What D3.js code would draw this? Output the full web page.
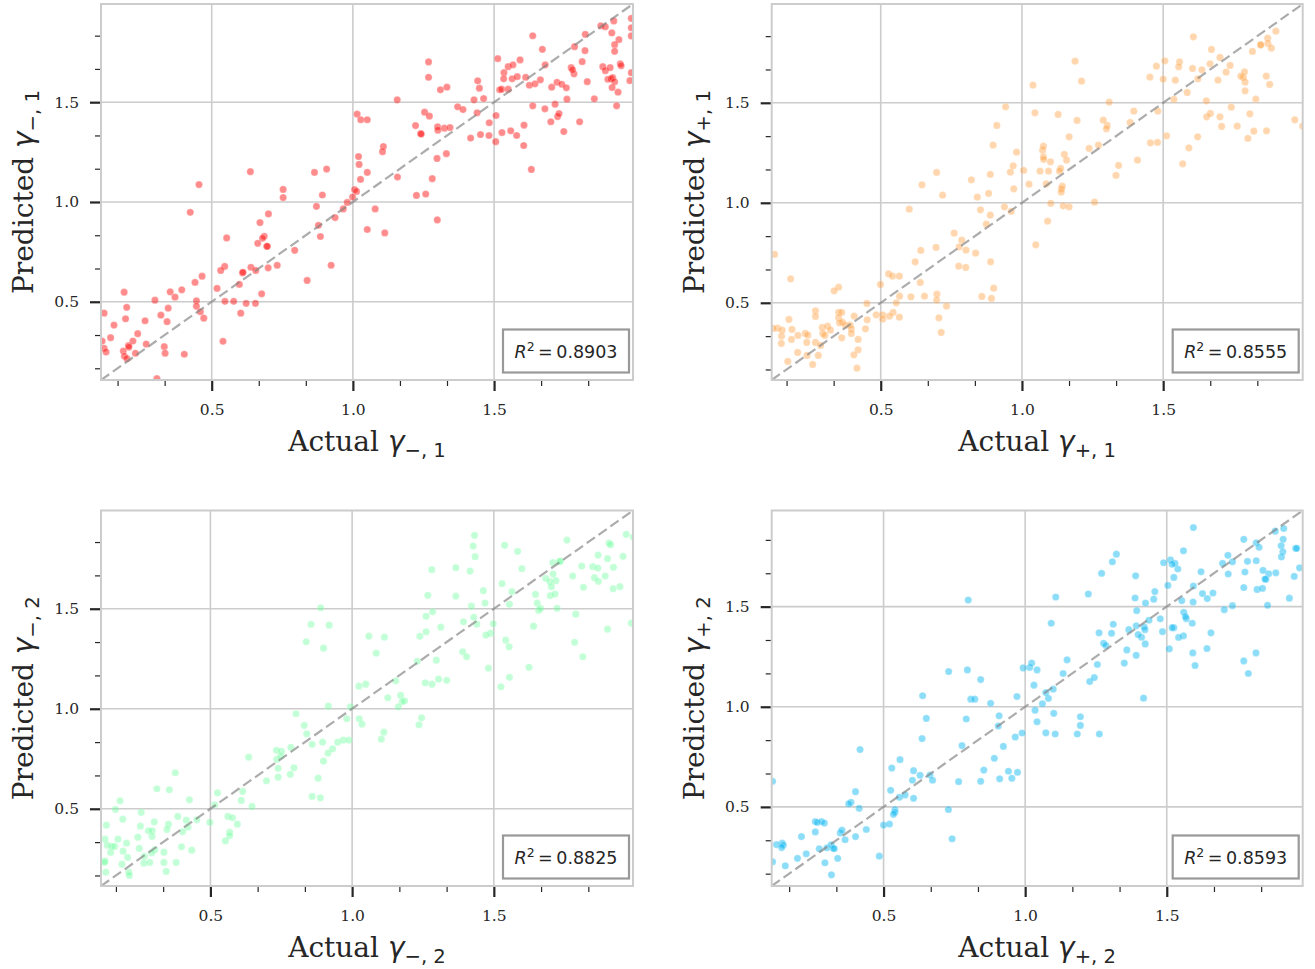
<!DOCTYPE html>
<html>
<head>
<meta charset="utf-8">
<script src="https://cdn.jsdelivr.net/npm/d3@7"></script>
<style>
  body { margin: 0; background: #ffffff; }
  svg { display: block; }
</style>
</head>
<body>
<svg id="fig" width="1315" height="969"></svg>
<script>
// ---- Actual vs predicted pairs for each coefficient ----
const gammaMinus1 = [
[1.015,1.440],[1.028,1.412],[1.051,1.412],[1.020,1.228],[1.022,1.188],[1.051,1.148],[1.027,1.113],[1.006,1.062],[1.013,1.053],[0.999,1.025],[0.980,0.998],[0.966,0.965],[0.937,0.922],[1.051,0.862],[0.637,1.152],[0.455,1.087],[0.424,0.948],[0.864,1.148],[0.907,1.165],[0.753,1.063],[0.753,1.022],[0.892,1.035],[0.871,0.978],[0.878,0.883],[0.885,0.827],[0.923,0.683],[0.838,0.607],[0.701,0.940],[0.671,0.897],[0.686,0.828],[0.680,0.818],[0.663,0.793],[0.695,0.778],[0.697,0.778],[0.794,0.758],[0.553,0.820],[0.546,0.677],[0.532,0.657],[0.639,0.673],[0.656,0.657],[0.609,0.645],[0.611,0.648],[0.700,0.670],[0.732,0.683],[0.598,0.587],[0.519,0.567],[0.677,0.540],[0.547,0.502],[0.578,0.502],[0.622,0.492],[0.655,0.492],[0.603,0.443],[0.540,0.302],[0.466,0.628],[0.441,0.597],[0.394,0.560],[0.353,0.550],[0.370,0.523],[0.299,0.508],[0.446,0.505],[0.446,0.477],[0.346,0.468],[0.320,0.433],[0.460,0.450],[0.472,0.418],[0.342,0.400],[0.264,0.405],[0.190,0.548],[0.199,0.472],[0.195,0.415],[0.119,0.443],[0.154,0.383],[0.142,0.320],[0.238,0.340],[0.221,0.303],[0.268,0.288],[0.205,0.280],[0.207,0.273],[0.112,0.303],[0.119,0.267],[0.126,0.248],[0.187,0.253],[0.191,0.227],[0.200,0.215],[0.230,0.242],[0.332,0.275],[0.335,0.242],[0.403,0.237],[0.306,0.115],
[1.637,1.833],[1.671,1.765],[1.513,1.718],[1.535,1.648],[1.550,1.678],[1.567,1.687],[1.592,1.712],[1.534,1.617],[1.564,1.617],[1.582,1.628],[1.612,1.625],[1.625,1.585],[1.645,1.592],[1.664,1.612],[1.681,1.687],[1.520,1.562],[1.527,1.565],[1.550,1.565],[1.637,1.482],[1.680,1.467],[1.507,1.433],[1.528,1.348],[1.559,1.357],[1.580,1.333],[1.606,1.385],[1.605,1.283],[1.632,1.163],[1.701,1.402],[1.716,1.490],[1.725,1.428],[1.730,1.443],[1.747,1.353],[1.803,1.402],[1.704,1.575],[1.723,1.600],[1.740,1.590],[1.756,1.572],[1.758,1.515],[1.773,1.673],[1.783,1.642],[1.778,1.662],[1.785,1.778],[1.822,1.758],[1.823,1.840],[1.812,1.703],[1.830,1.603],[1.855,1.517],[1.878,1.883],[1.894,1.878],[1.924,1.907],[1.917,1.847],[1.942,1.813],[1.927,1.788],[1.927,1.755],[1.885,1.678],[1.894,1.658],[1.911,1.673],[1.903,1.615],[1.914,1.617],[1.920,1.623],[1.927,1.602],[1.918,1.573],[1.939,1.550],[1.934,1.482],[1.947,1.692],[1.950,1.682],[1.986,1.920],[1.986,1.873],[1.986,1.832],[1.986,1.648],[1.981,1.608],[1.268,1.702],[1.268,1.625],[1.310,1.562],[1.333,1.575],[1.157,1.512],[1.254,1.450],[1.271,1.430],[1.222,1.383],[1.240,1.343],[1.242,1.340],[1.300,1.377],[1.301,1.360],[1.324,1.370],[1.344,1.373],[1.371,1.477],[1.390,1.463],[1.429,1.512],[1.442,1.607],[1.448,1.570],[1.463,1.518],[1.440,1.447],[1.483,1.397],[1.417,1.320],[1.452,1.338],[1.482,1.333],[1.506,1.302],[1.298,1.218],[1.331,1.242],[1.281,1.117],[1.158,1.125],[1.108,1.278],[1.105,1.252],[1.225,1.033],[1.258,1.040],[1.299,0.910],[1.079,0.965],[1.113,0.845]
];

const gammaPlus1 = [
[1.039,1.588],[0.942,1.480],[1.046,1.450],[0.911,1.387],[0.898,1.288],[0.981,1.253],[0.969,1.185],[0.959,1.153],[1.006,1.162],[1.064,1.158],[0.698,1.152],[0.646,1.090],[0.719,1.038],[0.821,1.115],[0.842,1.028],[0.882,1.047],[0.888,1.142],[0.971,1.070],[1.025,1.093],[0.938,0.980],[0.962,0.957],[0.853,0.965],[0.888,0.938],[0.874,0.893],[0.601,0.968],[0.760,0.848],[0.787,0.813],[0.778,0.780],[0.802,0.763],[0.836,0.748],[0.696,0.777],[0.642,0.762],[0.622,0.705],[0.889,0.705],[0.776,0.683],[0.801,0.677],[1.049,0.790],[0.900,0.573],[0.858,0.532],[0.892,0.522],[0.699,0.543],[0.698,0.513],[0.655,0.533],[0.607,0.530],[0.567,0.533],[0.733,0.483],[0.706,0.425],[0.714,0.352],[0.528,0.645],[0.542,0.633],[0.566,0.633],[0.499,0.592],[0.640,0.602],[0.555,0.500],[0.544,0.452],[0.484,0.440],[0.507,0.440],[0.507,0.418],[0.531,0.433],[0.566,0.428],[0.451,0.497],[0.452,0.415],[0.446,0.370],[0.124,0.742],[0.181,0.620],[0.351,0.578],[0.335,0.560],[0.351,0.452],[0.362,0.452],[0.351,0.425],[0.354,0.400],[0.364,0.403],[0.269,0.460],[0.269,0.432],[0.406,0.433],[0.375,0.388],[0.392,0.388],[0.396,0.370],[0.396,0.347],[0.293,0.377],[0.312,0.383],[0.322,0.363],[0.295,0.347],[0.302,0.337],[0.362,0.325],[0.420,0.317],[0.420,0.265],[0.405,0.240],[0.416,0.173],[0.175,0.417],[0.135,0.373],[0.151,0.363],[0.186,0.367],[0.184,0.317],[0.149,0.333],[0.148,0.297],[0.207,0.337],[0.233,0.347],[0.242,0.338],[0.238,0.302],[0.269,0.302],[0.287,0.287],[0.206,0.252],[0.239,0.237],[0.279,0.237],[0.259,0.192],[0.171,0.207],[0.119,0.372],
[1.607,1.830],[1.671,1.767],[1.701,1.727],[1.737,1.687],[1.723,1.653],[1.666,1.695],[1.637,1.665],[1.623,1.620],[1.604,1.672],[1.558,1.705],[1.555,1.680],[1.506,1.710],[1.476,1.683],[1.453,1.628],[1.500,1.618],[1.543,1.613],[1.585,1.552],[1.538,1.517],[1.653,1.510],[1.654,1.430],[1.667,1.447],[1.701,1.430],[1.707,1.382],[1.741,1.478],[1.762,1.383],[1.800,1.322],[1.807,1.445],[1.821,1.358],[1.828,1.518],[1.790,1.560],[1.790,1.603],[1.784,1.627],[1.775,1.633],[1.788,1.655],[1.816,1.757],[1.846,1.790],[1.845,1.790],[1.870,1.823],[1.871,1.797],[1.883,1.773],[1.899,1.858],[1.865,1.633],[1.877,1.592],[1.866,1.360],[1.966,1.415],[1.994,1.383],[1.694,1.613],[1.622,1.330],[1.591,1.275],[1.569,1.195],[1.512,1.335],[1.480,1.302],[1.455,1.300],[1.481,1.458],[1.396,1.458],[1.383,1.402],[1.409,1.213],[1.342,1.187],[1.333,1.137],[1.271,1.288],[1.238,1.272],[1.302,1.387],[1.299,1.370],[1.288,1.413],[1.309,1.503],[1.195,1.412],[1.188,1.708],[1.211,1.608],[1.128,1.442],[1.167,1.330],[1.150,1.242],[1.158,1.213],[1.137,1.172],[1.133,1.158],[1.094,1.158],[1.101,1.205],[1.076,1.230],[1.077,1.217],[1.073,1.263],[1.076,1.283],[1.086,1.095],[1.143,1.083],[1.140,1.070],[1.139,1.053],[1.102,0.997],[1.146,0.985],[1.167,0.980],[1.257,1.003],[1.091,0.908]
];

const gammaMinus2 = [
[0.889,1.505],[0.855,1.422],[0.919,1.418],[0.838,1.335],[0.899,1.303],[1.059,1.363],[1.024,1.113],[1.048,1.123],[0.916,1.013],[0.994,1.010],[0.981,0.950],[1.025,0.950],[1.035,0.923],[0.802,0.975],[0.831,0.917],[0.840,0.875],[0.859,0.822],[0.896,0.833],[0.949,0.833],[0.969,0.843],[0.989,0.843],[0.931,0.800],[0.915,0.778],[0.899,0.738],[0.733,0.792],[0.751,0.787],[0.784,0.807],[0.734,0.747],[0.748,0.763],[0.739,0.702],[0.795,0.705],[0.782,0.672],[0.739,0.658],[0.698,0.640],[0.880,0.653],[0.859,0.562],[0.888,0.555],[0.635,0.758],[0.614,0.587],[0.609,0.542],[0.647,0.512],[0.525,0.580],[0.515,0.520],[0.498,0.432],[0.562,0.462],[0.578,0.455],[0.595,0.423],[0.568,0.383],[0.568,0.365],[0.553,0.340],[0.376,0.680],[0.311,0.600],[0.355,0.595],[0.426,0.545],[0.181,0.540],[0.165,0.497],[0.256,0.482],[0.191,0.448],[0.133,0.418],[0.253,0.413],[0.302,0.435],[0.352,0.423],[0.385,0.462],[0.415,0.443],[0.452,0.445],[0.421,0.408],[0.402,0.385],[0.347,0.397],[0.281,0.390],[0.295,0.390],[0.294,0.362],[0.244,0.358],[0.174,0.348],[0.128,0.348],[0.204,0.328],[0.136,0.318],[0.152,0.312],[0.162,0.312],[0.192,0.288],[0.249,0.302],[0.304,0.295],[0.398,0.310],[0.434,0.293],[0.148,0.282],[0.336,0.283],[0.208,0.257],[0.267,0.262],[0.293,0.280],[0.265,0.228],[0.286,0.232],[0.336,0.232],[0.379,0.232],[0.188,0.223],[0.128,0.238],[0.126,0.233],[0.131,0.183],[0.212,0.183],[0.214,0.167],[0.344,0.187],
[1.432,1.867],[1.427,1.813],[1.434,1.760],[1.281,1.695],[1.366,1.705],[1.416,1.688],[1.267,1.567],[1.366,1.563],[1.463,1.590],[1.469,1.528],[1.421,1.513],[1.284,1.485],[1.261,1.462],[1.313,1.408],[1.393,1.435],[1.429,1.457],[1.440,1.423],[1.498,1.425],[1.489,1.378],[1.472,1.368],[1.239,1.362],[1.261,1.385],[1.114,1.358],[1.085,1.278],[1.390,1.285],[1.404,1.260],[1.230,1.237],[1.297,1.243],[1.481,1.203],[1.154,1.140],[1.258,1.130],[1.282,1.123],[1.305,1.148],[1.334,1.142],[1.126,1.055],[1.171,1.067],[1.185,1.040],[1.177,1.035],[1.163,1.010],[1.112,0.883],[1.103,0.848],[1.245,0.955],[1.236,0.920],[1.538,1.817],[1.584,1.787],[1.599,1.700],[1.529,1.625],[1.564,1.585],[1.555,1.522],[1.542,1.343],[1.554,1.310],[1.525,1.110],[1.555,1.157],[1.624,1.207],[1.640,1.413],[1.647,1.572],[1.653,1.528],[1.658,1.492],[1.665,1.502],[1.683,1.652],[1.698,1.635],[1.703,1.610],[1.699,1.565],[1.716,1.573],[1.723,1.502],[1.708,1.730],[1.709,1.673],[1.719,1.640],[1.731,1.735],[1.735,1.738],[1.758,1.843],[1.778,1.663],[1.789,1.473],[1.785,1.332],[1.814,1.260],[1.810,1.713],[1.816,1.607],[1.849,1.710],[1.867,1.703],[1.868,1.768],[1.901,1.750],[1.855,1.655],[1.869,1.637],[1.893,1.663],[1.922,1.707],[1.906,1.828],[1.912,1.820],[1.956,1.762],[1.967,1.872],[1.921,1.600],[1.945,1.610],[1.992,1.858],[1.985,1.428],[1.901,1.398]
];

const gammaPlus2 = [
[0.799,1.533],[0.730,1.176],[0.796,1.184],[0.843,1.136],[0.638,1.055],[0.808,1.038],[0.822,1.038],[0.878,1.017],[0.971,1.051],[0.993,1.194],[1.016,1.196],[1.023,1.218],[1.042,1.184],[1.031,1.108],[1.035,0.983],[1.042,0.925],[0.651,0.942],[0.792,0.939],[0.636,0.841],[0.905,0.904],[0.908,0.955],[0.965,0.849],[0.989,0.869],[0.777,0.806],[0.923,0.802],[0.891,0.743],[0.558,0.736],[0.529,0.694],[0.606,0.681],[0.629,0.658],[0.664,0.659],[0.602,0.633],[0.673,0.633],[0.765,0.626],[0.843,0.628],[0.854,0.684],[0.910,0.640],[0.941,0.678],[0.953,0.643],[0.973,0.673],[0.525,0.583],[0.417,0.786],[0.401,0.576],[0.385,0.523],[0.377,0.515],[0.414,0.493],[0.556,0.548],[0.576,0.560],[0.606,0.543],[0.540,0.487],[0.540,0.473],[0.535,0.463],[0.500,0.409],[0.521,0.414],[0.729,0.487],[0.742,0.341],[0.485,0.254],[0.108,0.628],[0.259,0.427],[0.266,0.422],[0.281,0.427],[0.291,0.419],[0.259,0.375],[0.210,0.352],[0.347,0.370],[0.353,0.384],[0.364,0.336],[0.401,0.352],[0.439,0.387],[0.142,0.319],[0.122,0.312],[0.146,0.309],[0.140,0.297],[0.273,0.291],[0.300,0.296],[0.315,0.311],[0.322,0.294],[0.326,0.291],[0.227,0.266],[0.196,0.243],[0.338,0.243],[0.293,0.221],[0.153,0.206],[0.108,0.226],[0.316,0.161],
[1.594,1.895],[1.772,1.836],[1.816,1.819],[1.826,1.796],[1.883,1.877],[1.913,1.890],[1.911,1.836],[1.904,1.804],[1.910,1.774],[1.905,1.748],[1.955,1.791],[1.959,1.791],[1.969,1.694],[1.950,1.651],[1.885,1.669],[1.840,1.681],[1.860,1.664],[1.850,1.636],[1.847,1.638],[1.816,1.729],[1.785,1.726],[1.776,1.673],[1.772,1.595],[1.819,1.586],[1.838,1.591],[1.933,1.542],[1.856,1.507],[1.732,1.724],[1.716,1.756],[1.697,1.716],[1.717,1.663],[1.621,1.674],[1.559,1.779],[1.539,1.688],[1.529,1.716],[1.513,1.733],[1.519,1.711],[1.489,1.719],[1.525,1.646],[1.504,1.606],[1.594,1.603],[1.626,1.565],[1.643,1.540],[1.663,1.568],[1.553,1.530],[1.593,1.523],[1.703,1.485],[1.732,1.505],[1.560,1.472],[1.569,1.440],[1.566,1.450],[1.590,1.417],[1.656,1.369],[1.642,1.291],[1.592,1.269],[1.600,1.206],[1.559,1.354],[1.542,1.346],[1.525,1.395],[1.519,1.395],[1.509,1.289],[1.485,1.375],[1.477,1.439],[1.815,1.269],[1.772,1.229],[1.788,1.166],[1.322,1.762],[1.308,1.724],[1.270,1.666],[1.390,1.654],[1.223,1.563],[1.108,1.548],[1.388,1.543],[1.458,1.575],[1.454,1.537],[1.425,1.518],[1.394,1.480],[1.437,1.432],[1.392,1.404],[1.420,1.399],[1.423,1.385],[1.411,1.347],[1.399,1.360],[1.424,1.314],[1.366,1.385],[1.311,1.412],[1.305,1.367],[1.261,1.369],[1.277,1.317],[1.285,1.306],[1.359,1.284],[1.392,1.257],[1.350,1.218],[1.255,1.211],[1.148,1.234],[1.134,1.166],[1.228,1.126],[1.244,1.146],[1.092,1.417],[1.099,1.088],[1.082,1.042],[1.073,1.071],[1.061,1.015],[1.101,0.967],[1.195,0.950],[1.195,0.907],[1.073,0.870],[1.106,0.864],[1.184,0.864],[1.262,0.864],[1.418,1.043]
];

// ---- Labels, scores and ticks ----
const seriesData = [gammaMinus1, gammaPlus1, gammaMinus2, gammaPlus2];
const subscripts = ['\u2212, 1', '+, 1', '\u2212, 2', '+, 2'];
const r2Values = [0.8903, 0.8555, 0.8825, 0.8593];
const majorTicks = [0.5, 1.0, 1.5];
const minorStep = 0.5 / 3;

// ---- Styling ----
const colors = ['#ff0000', '#ff9933', '#66ff99', '#00b4f0'];
const alphas = [0.45, 0.4, 0.4, 0.45];

// axes boxes in pixels and shared x/y limits of each panel
const layout = [
  { left: 101,   top: 4,     w: 532, h: 376,   lo: 0.108, hi: 1.992 },
  { left: 771.7, top: 4,     w: 531, h: 376,   lo: 0.114, hi: 1.994 },
  { left: 101,   top: 510.5, w: 532, h: 375.5, lo: 0.114, hi: 1.991 },
  { left: 771.7, top: 510.5, w: 531, h: 375.5, lo: 0.105, hi: 1.980 }
];

const SERIF = "'DejaVu Serif', serif";
const SANS = "'DejaVu Sans', sans-serif";
const GRID = '#cccccc';
const INK = '#262626';

const svg = d3.select('#fig');
const fmt = d3.format('.1f');

seriesData.forEach((data, i) => {
  const L = layout[i];
  const g = svg.append('g').attr('transform', `translate(${L.left},${L.top})`);
  const x = d3.scaleLinear().domain([L.lo, L.hi]).range([0, L.w]);
  const y = d3.scaleLinear().domain([L.lo, L.hi]).range([L.h, 0]);

  const minorTicks = d3.range(Math.ceil(L.lo / minorStep), Math.floor(L.hi / minorStep) + 1)
    .map(k => k * minorStep)
    .filter(v => !majorTicks.some(m => Math.abs(m - v) < 1e-6));

  const clipId = 'clip' + i;
  g.append('clipPath').attr('id', clipId)
    .append('rect').attr('width', L.w).attr('height', L.h);

  // grid
  const grid = g.append('g').attr('stroke', GRID).attr('stroke-width', 1.6);
  grid.selectAll('line.gx').data(majorTicks).join('line').attr('class', 'gx')
    .attr('x1', d => x(d)).attr('x2', d => x(d)).attr('y1', 0).attr('y2', L.h);
  grid.selectAll('line.gy').data(majorTicks).join('line').attr('class', 'gy')
    .attr('y1', d => y(d)).attr('y2', d => y(d)).attr('x1', 0).attr('x2', L.w);

  // scatter
  g.append('g').attr('clip-path', `url(#${clipId})`)
    .selectAll('circle').data(data).join('circle')
    .attr('cx', d => x(d[0])).attr('cy', d => y(d[1])).attr('r', 3.6)
    .attr('fill', colors[i]).attr('fill-opacity', alphas[i])
    .attr('stroke', '#ffffff').attr('stroke-opacity', alphas[i]).attr('stroke-width', 0.6);

  // identity line
  g.append('line')
    .attr('x1', x(L.lo)).attr('y1', y(L.lo)).attr('x2', x(L.hi)).attr('y2', y(L.hi))
    .attr('stroke', '#808080').attr('stroke-opacity', 0.65)
    .attr('stroke-width', 2.2).attr('stroke-dasharray', '10,4.5')
    .attr('clip-path', `url(#${clipId})`);

  // frame
  g.append('rect').attr('width', L.w).attr('height', L.h)
    .attr('fill', 'none').attr('stroke', GRID).attr('stroke-width', 2);

  // x axis
  const xMinor = g.append('g').attr('transform', `translate(0,${L.h + 1})`)
    .call(d3.axisBottom(x).tickValues(minorTicks).tickSize(5).tickFormat(''));
  const xMajor = g.append('g').attr('transform', `translate(0,${L.h + 1})`)
    .call(d3.axisBottom(x).tickValues(majorTicks).tickSize(10).tickPadding(13).tickFormat(fmt));
  // y axis
  const yMinor = g.append('g').attr('transform', 'translate(-1,0)')
    .call(d3.axisLeft(y).tickValues(minorTicks).tickSize(5).tickFormat(''));
  const yMajor = g.append('g').attr('transform', 'translate(-1,0)')
    .call(d3.axisLeft(y).tickValues(majorTicks).tickSize(10).tickPadding(11).tickFormat(fmt));

  [xMinor, xMajor, yMinor, yMajor].forEach(a => a.select('.domain').remove());
  [xMinor, yMinor].forEach(a => a.selectAll('line').attr('stroke', INK).attr('stroke-width', 1.2));
  [xMajor, yMajor].forEach(a => {
    a.selectAll('line').attr('stroke', INK).attr('stroke-width', 2.2);
    a.selectAll('text').attr('fill', INK).style('font-family', SERIF).style('font-size', '15.5px');
  });

  // axis titles
  const sign = subscripts[i];
  function title(sel, word) {
    sel.style('font-family', SERIF).style('font-size', '28px').attr('fill', INK)
      .attr('text-anchor', 'middle');
    sel.append('tspan').text(word + ' ');
    sel.append('tspan').style('font-family', SANS).style('font-style', 'italic').text('\u03b3');
    sel.append('tspan').style('font-family', SANS).style('font-size', '19.6px')
      .attr('dy', 6).text(sign);
  }
  g.append('text').attr('x', L.w / 2).attr('y', L.h + 71).call(title, 'Actual');
  g.append('text').attr('transform', `translate(-68,${L.h / 2}) rotate(-90)`).call(title, 'Predicted');

  // R² box
  const bw = 126, bh = 43;
  const bx = L.w - 4 - bw, by = L.h - 7.5 - bh;
  g.append('rect').attr('x', bx).attr('y', by).attr('width', bw).attr('height', bh)
    .attr('fill', '#ffffff').attr('stroke', '#999999').attr('stroke-width', 2.2);
  const t = g.append('text').attr('x', bx + bw / 2).attr('y', by + bh / 2 + 6.5)
    .attr('text-anchor', 'middle').attr('fill', INK)
    .style('font-family', SANS).style('font-size', '17.5px');
  t.append('tspan').style('font-style', 'italic').text('R');
  t.append('tspan').attr('dy', -7).style('font-size', '12.5px').text('2');
  t.append('tspan').attr('dy', 7).text('\u2009=\u2009' + r2Values[i].toFixed(4));
});
</script>
</body>
</html>
